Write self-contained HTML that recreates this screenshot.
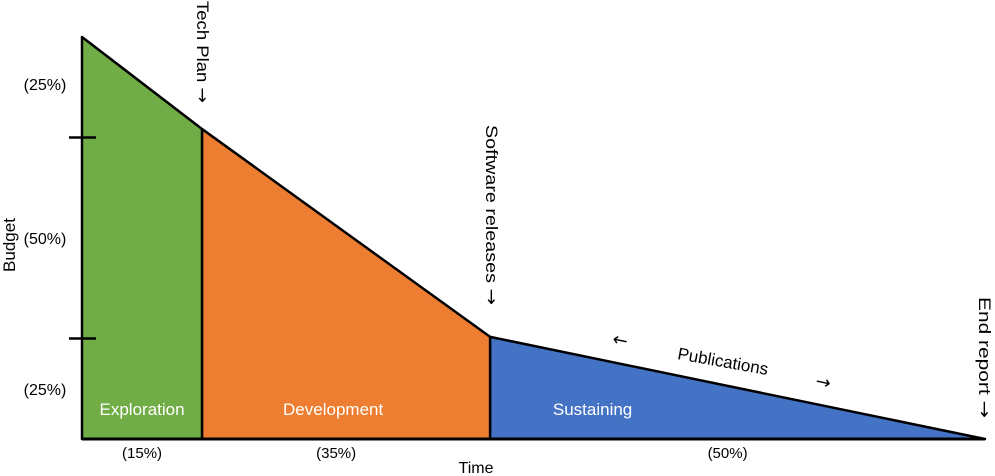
<!DOCTYPE html>
<html><head><meta charset="utf-8"><style>
body{margin:0;background:#fff;}
svg{display:block;font-family:"Liberation Sans",sans-serif;}
.ar{font-family:"DejaVu Sans",sans-serif;}
</style></head><body>
<svg id="c" width="995" height="476"></svg>
<script>
const phases=["Exploration","Development","Sustaining"];
const timeBreaks=[0,13.3,45.2,100];
const budgetLevels=[100,77.1,25.4,0];
const colors=["#70ad47","#ed7d31","#4472c4"];
const timeLabels=["(15%)","(35%)","(50%)"];
const budgetLabels=["(25%)","(50%)","(25%)"];
const budgetTicks=[75,25];
const NS="http://www.w3.org/2000/svg";
const svg=document.getElementById('c');
const X0=82,X1=985,Y0=439,Y1=37;
const x=v=>X0+(X1-X0)*v/100;
const y=v=>Y0-(Y0-Y1)*v/100;
function el(t,a){const e=document.createElementNS(NS,t);for(const k in a)e.setAttribute(k,a[k]);svg.appendChild(e);return e;}
function txt(s,a){const e=el('text',a);e.textContent=s;return e;}
function txtArrow(s,arrow,a){const e=el('text',a);e.appendChild(document.createTextNode(s));const t=document.createElementNS(NS,'tspan');t.setAttribute('class','ar');t.textContent=arrow;e.appendChild(t);return e;}
const labelShift=[0,-13,-145];
for(let i=0;i<3;i++){
  const p=el('polygon',{points:`${x(timeBreaks[i])},${Y0} ${x(timeBreaks[i])},${y(budgetLevels[i])} ${x(timeBreaks[i+1])},${y(budgetLevels[i+1])} ${x(timeBreaks[i+1])},${Y0}`,fill:colors[i],stroke:'#000','stroke-width':2.5,'stroke-linejoin':'round'});
  
  
  const cx=(x(timeBreaks[i])+x(timeBreaks[i+1]))/2;
  const t=txt(phases[i],{x:cx+labelShift[i],y:415,'text-anchor':'middle',fill:'#fff','font-size':17});
  
  
  const tl=txt(timeLabels[i],{x:cx+(i==0?0:-10),y:458,'text-anchor':'middle',fill:'#000','font-size':15});
  
  
}
const ax=el('line',{x1:X0,y1:Y0,x2:X1,y2:Y0,stroke:'#000','stroke-width':3});


for(const b of budgetTicks){
  const t=el('line',{x1:69,x2:96,y1:y(b),y2:y(b),stroke:'#000','stroke-width':2.5});
  
  
}
const by=[90,244,395];
for(let i=0;i<3;i++){
  const t=txt(budgetLabels[i],{x:45,y:by[i],'text-anchor':'middle',fill:'#000','font-size':16});
  
  
}
function vtext(s,cx,top,len,name){
  const t=txtArrow(s,"→",{x:0,y:0,'font-size':17,fill:'#000',textLength:len,lengthAdjust:'spacingAndGlyphs',transform:`translate(${cx-6},${top}) rotate(90)`});
  
  
}
vtext("Tech Plan ",203,1,102,'tech-plan-marker');
vtext("Software releases ",492,125,180,'software-releases-marker');
vtext("End report ",985,297,121,'end-report-marker');
const b=txt("Budget",{x:0,y:0,'font-size':17,fill:'#000','text-anchor':'middle',transform:'translate(15,245) rotate(-90)'});


const tt=txt("Time",{x:476,y:473,'font-size':16,fill:'#000','text-anchor':'middle'});


const pub=txt("Publications",{x:0,y:0,'font-size':17,fill:'#000','text-anchor':'middle',transform:'translate(722,367) rotate(10)'});


const a1=txt("←",{x:620,y:346,'font-size':18,fill:'#000','text-anchor':'middle',class:'ar',transform:'rotate(12 620 341)'});


const a2=txt("→",{x:823,y:388,'font-size':18,fill:'#000','text-anchor':'middle',class:'ar',transform:'rotate(12 823 383)'});


</script>
</body></html>
